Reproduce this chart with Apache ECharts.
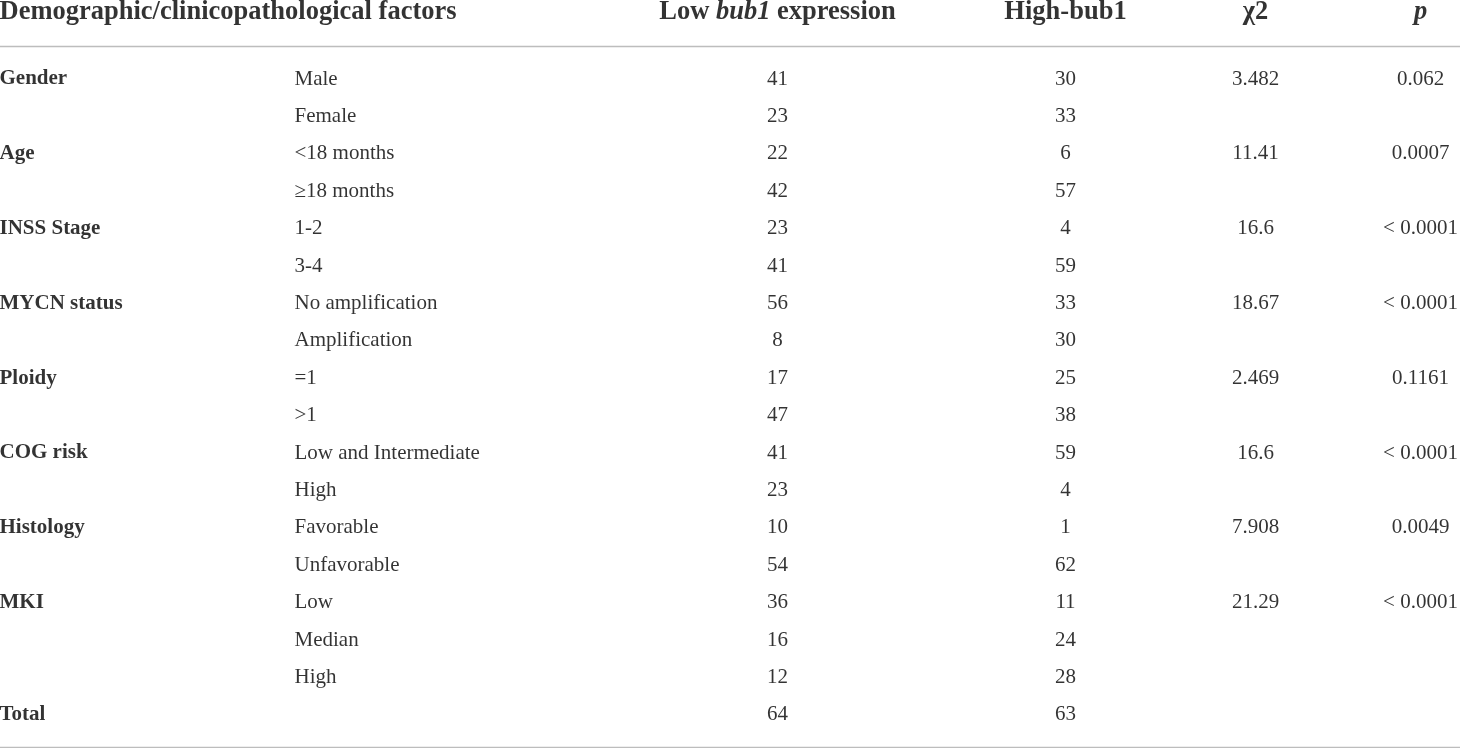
<!DOCTYPE html>
<html>
<head>
<meta charset="utf-8">
<script src="https://cdn.jsdelivr.net/npm/echarts@6/dist/echarts.min.js"></script>
<style>
html,body{margin:0;padding:0;background:#fff;}
#chart{width:1460px;height:748px;}
</style>
</head>
<body>
<div id="chart"></div>
<script>
// ---- data ----
var headers = ['Demographic/clinicopathological factors', 'Low bub1 expression', 'High-bub1', 'χ2', 'p'];
var groups = ['Gender', 'Age', 'INSS Stage', 'MYCN status', 'Ploidy', 'COG risk', 'Histology', 'MKI', 'Total'];
var groupSizes = [2, 2, 2, 2, 2, 2, 2, 3, 1];
var levels = ['Male', 'Female', '<18 months', '≥18 months', '1-2', '3-4', 'No amplification', 'Amplification',
  '=1', '>1', 'Low and Intermediate', 'High', 'Favorable', 'Unfavorable', 'Low', 'Median', 'High', ''];
var lowBub1 = [41, 23, 22, 42, 23, 41, 56, 8, 17, 47, 41, 23, 10, 54, 36, 16, 12, 64];
var highBub1 = [30, 33, 6, 57, 4, 59, 33, 30, 25, 38, 59, 4, 1, 62, 11, 24, 28, 63];
var chi2 = ['3.482', '', '11.41', '', '16.6', '', '18.67', '', '2.469', '', '16.6', '', '7.908', '', '21.29', '', '', ''];
var pValues = ['0.062', '', '0.0007', '', '< 0.0001', '', '< 0.0001', '', '0.1161', '', '< 0.0001', '', '0.0049', '', '< 0.0001', '', '', ''];

// ---- layout ----
var W = 1460, H = 748;
var rowTop = 79.5, rowStep = 37.4;
function idx(py) { return (py - rowTop) / rowStep; }
var colX = { group: 0, level: 295, low: 778, high: 1066, chi: 1256, p: 1421 };
var headerIdx = idx(13);
var FONT = '"Liberation Serif", "Times New Roman", serif';
var TXT = '#000000';
var LINE = '#bdbdbd';
var BODY = 21, HEAD = 26.5;

function textSeries(name, x, values, align, weight) {
  return {
    type: 'scatter', name: name, symbolSize: 1, silent: true,
    itemStyle: { color: 'rgba(0,0,0,0)' },
    data: values.map(function (v, i) { return [x, i, String(v)]; }).filter(function (d) { return d[2] !== ''; }),
    label: {
      show: true, position: [0, 0], align: align, verticalAlign: 'middle',
      fontFamily: FONT, fontSize: BODY, fontWeight: weight || 'normal', color: TXT,
      textBorderWidth: 0,
      formatter: function (p) { return p.value[2]; }
    }
  };
}

// group labels on their first rows
var groupCol = [];
var r = 0;
groups.forEach(function (g, k) { groupCol[r] = g; for (var j = 1; j < groupSizes[k]; j++) groupCol[r + j] = ''; r += groupSizes[k]; });

var hdrRich = {
  b: { fontFamily: FONT, fontSize: HEAD, fontWeight: 'bold', color: TXT },
  bi: { fontFamily: FONT, fontSize: HEAD, fontWeight: 'bold', fontStyle: 'italic', color: TXT }
};
var hdrFormat = [
  '{b|' + headers[0] + '}',
  '{b|Low }{bi|bub1}{b| expression}',
  '{b|' + headers[2] + '}',
  '{b|' + headers[3] + '}',
  '{bi|' + headers[4] + '}'
];
var hdrX = [colX.group, colX.low, colX.high, colX.chi, colX.p];
var hdrAlign = ['left', 'center', 'center', 'center', 'center'];

var headerSeries = {
  type: 'scatter', symbolSize: 1, silent: true, clip: false,
  itemStyle: { color: 'rgba(0,0,0,0)' },
  data: headers.map(function (h, k) {
    return {
      value: [hdrX[k], headerIdx],
      label: { show: true, position: [0, 0], align: hdrAlign[k], verticalAlign: 'middle', textBorderWidth: 0, rich: hdrRich, formatter: hdrFormat[k] }
    };
  }),
  markLine: {
    silent: true, symbol: 'none', animation: false,
    label: { show: false },
    lineStyle: { color: LINE, width: 1.3, type: 'solid' },
    data: [{ yAxis: idx(46) }, { yAxis: idx(747) }]
  }
};

var chart = echarts.init(document.getElementById('chart'), null, { renderer: 'canvas' });
chart.setOption({
  backgroundColor: '#fff',
  animation: false,
  grid: { left: 0, right: 0, top: 0, bottom: 0, containLabel: false },
  xAxis: { type: 'value', min: 0, max: W, show: false },
  yAxis: { type: 'value', inverse: true, min: idx(0), max: idx(H), show: false },
  series: [
    headerSeries,
    textSeries('group', colX.group, groupCol, 'left', 'bold'),
    textSeries('level', colX.level, levels, 'left'),
    textSeries('low', colX.low, lowBub1, 'center'),
    textSeries('high', colX.high, highBub1, 'center'),
    textSeries('chi', colX.chi, chi2, 'center'),
    textSeries('p', colX.p, pValues, 'center')
  ]
});
</script>
</body>
</html>
